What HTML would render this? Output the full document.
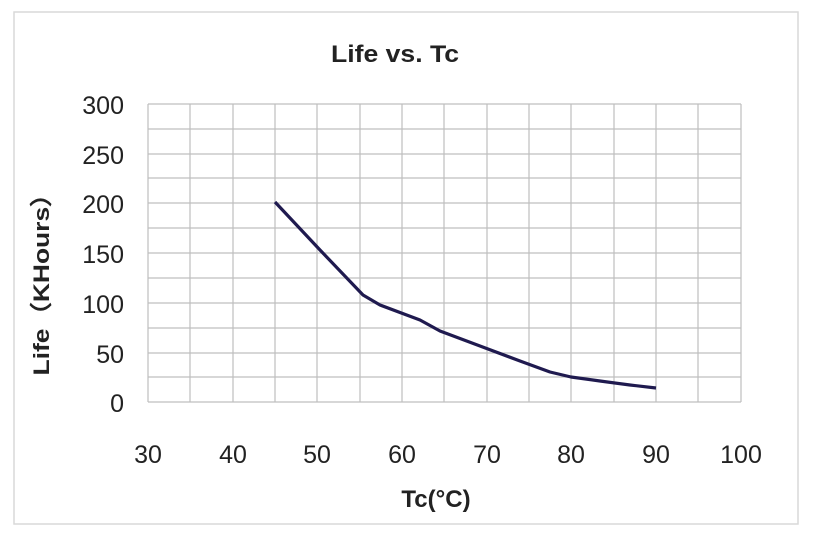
<!DOCTYPE html>
<html><head><style>
html,body{margin:0;padding:0;background:#fff;}
</style></head><body>
<svg width="813" height="545" xmlns="http://www.w3.org/2000/svg" font-family="Liberation Sans, sans-serif" fill="#222">
<rect x="0" y="0" width="813" height="545" fill="#fff"/>
<rect x="14" y="12" width="784" height="512" fill="none" stroke="#d9d9d9" stroke-width="1.5"/>
<text x="395" y="62" font-size="24" font-weight="bold" text-anchor="middle" textLength="128" lengthAdjust="spacingAndGlyphs">Life vs. Tc</text>
<g stroke="#bfbfbf" stroke-width="1.2">
<line x1="148" y1="104" x2="741" y2="104"/><line x1="148" y1="129" x2="741" y2="129"/>
<line x1="148" y1="154" x2="741" y2="154"/><line x1="148" y1="178" x2="741" y2="178"/>
<line x1="148" y1="203" x2="741" y2="203"/><line x1="148" y1="228" x2="741" y2="228"/>
<line x1="148" y1="253" x2="741" y2="253"/><line x1="148" y1="278" x2="741" y2="278"/>
<line x1="148" y1="303" x2="741" y2="303"/><line x1="148" y1="328" x2="741" y2="328"/>
<line x1="148" y1="353" x2="741" y2="353"/><line x1="148" y1="377" x2="741" y2="377"/>
<line x1="148" y1="402" x2="741" y2="402"/>
<line x1="148" y1="104" x2="148" y2="402"/><line x1="190" y1="104" x2="190" y2="402"/>
<line x1="233" y1="104" x2="233" y2="402"/><line x1="275" y1="104" x2="275" y2="402"/>
<line x1="317" y1="104" x2="317" y2="402"/><line x1="360" y1="104" x2="360" y2="402"/>
<line x1="402" y1="104" x2="402" y2="402"/><line x1="444" y1="104" x2="444" y2="402"/>
<line x1="487" y1="104" x2="487" y2="402"/><line x1="529" y1="104" x2="529" y2="402"/>
<line x1="571" y1="104" x2="571" y2="402"/><line x1="614" y1="104" x2="614" y2="402"/>
<line x1="656" y1="104" x2="656" y2="402"/><line x1="698" y1="104" x2="698" y2="402"/>
<line x1="741" y1="104" x2="741" y2="402"/>
</g>
<polyline fill="none" stroke="#1f1a4f" stroke-width="3.2" stroke-linejoin="round" points="275,202 320,250 363,295 380,305 420,320 440,331 480,346 520,361 550,372 571,377 600,381 630,385 656,388"/>
<g font-size="25" text-anchor="end">
<text x="124" y="114">300</text><text x="124" y="164">250</text><text x="124" y="213">200</text>
<text x="124" y="263">150</text><text x="124" y="313">100</text><text x="124" y="363">50</text>
<text x="124" y="412">0</text>
</g>
<g font-size="25" text-anchor="middle">
<text x="148" y="463">30</text><text x="233" y="463">40</text><text x="317" y="463">50</text>
<text x="402" y="463">60</text><text x="487" y="463">70</text><text x="571" y="463">80</text>
<text x="656" y="463">90</text><text x="741" y="463">100</text>
</g>
<text x="436" y="507" font-size="24" font-weight="bold" text-anchor="middle">Tc(°C)</text>
<text transform="translate(49,278) rotate(-90)" font-size="22" font-weight="bold" text-anchor="middle" textLength="195" lengthAdjust="spacingAndGlyphs">Life（KHours）</text>
</svg>
</body></html>
